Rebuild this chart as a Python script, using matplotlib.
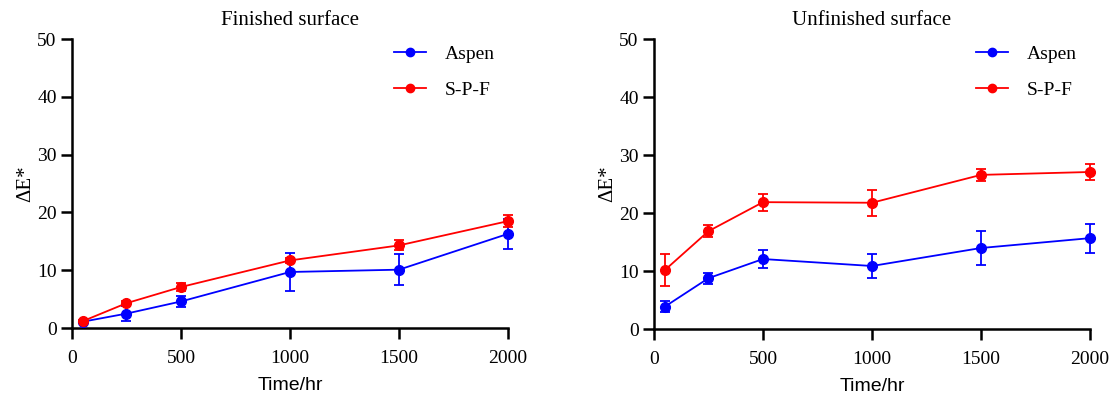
import matplotlib

matplotlib.use("Agg")
import matplotlib.pyplot as plt
from matplotlib.lines import Line2D

time_hr = [50, 250, 500, 1000, 1500, 2000]

fin_aspen = [1.1, 2.5, 4.6, 9.7, 10.1, 16.3]
fin_aspen_err = [0.2, 1.3, 0.95, 3.3, 2.65, 2.6]
fin_spf = [1.2, 4.3, 7.1, 11.7, 14.3, 18.5]
fin_spf_err = [0.2, 0.3, 0.75, 0.4, 0.85, 1.1]

unf_aspen = [3.9, 8.8, 12.1, 10.9, 14.0, 15.7]
unf_aspen_err = [0.95, 0.95, 1.55, 2.05, 2.95, 2.5]
unf_spf = [10.2, 16.9, 21.9, 21.8, 26.6, 27.1]
unf_spf_err = [2.75, 1.05, 1.45, 2.25, 1.1, 1.4]

panels = [
    ("Finished surface", fin_aspen, fin_aspen_err, fin_spf, fin_spf_err),
    ("Unfinished surface", unf_aspen, unf_aspen_err, unf_spf, unf_spf_err),
]

serif = ["Liberation Serif", "DejaVu Serif"]
sans = ["Liberation Sans", "DejaVu Sans"]

fig = plt.figure(figsize=(11.16, 4.03), dpi=100)
boxes = [[0.0645, 0.186, 0.3907, 0.717], [0.586, 0.183, 0.3907, 0.720]]

for box, (title, a, a_err, s, s_err) in zip(boxes, panels):
    ax = fig.add_axes(box)
    handles = []
    for y, err, color, label in [(a, a_err, "#0000ff", "Aspen"), (s, s_err, "#ff0000", "S-P-F")]:
        ax.errorbar(time_hr, y, yerr=err, color=color, marker="o", markersize=7,
                    linewidth=1.3, elinewidth=1.3, capsize=3.5, capthick=1.3,
                    clip_on=False, zorder=3)
        handles.append(Line2D([], [], color=color, marker="o", markersize=6,
                              linewidth=1.3, label=label))
    ax.set_xlim(0, 2000)
    ax.set_ylim(0, 50)
    ax.set_xticks([0, 500, 1000, 1500, 2000])
    ax.set_yticks(range(0, 51, 10))
    for side in ["top", "right"]:
        ax.spines[side].set_visible(False)
    for side in ["left", "bottom"]:
        ax.spines[side].set_linewidth(1.8)
    ax.tick_params(width=1.8, length=8, labelsize=14)
    ax.tick_params(axis="x", pad=8)
    ax.tick_params(axis="y", pad=3)
    for lab in ax.get_xticklabels() + ax.get_yticklabels():
        lab.set_fontfamily(serif)
    ax.set_title(title, family=serif, fontsize=15, pad=10)
    ax.set_xlabel("Time/hr", family=sans, fontsize=14, labelpad=7)
    ax.set_ylabel("ΔE*", family=serif, fontsize=15, labelpad=1)
    ax.legend(handles=handles, loc="upper right", frameon=False,
              prop={"family": serif, "size": 14},
              labelspacing=0.95, handlelength=1.65, handletextpad=0.95,
              bbox_to_anchor=(1.01, 1.04))

fig.savefig("out.png", dpi=100)
